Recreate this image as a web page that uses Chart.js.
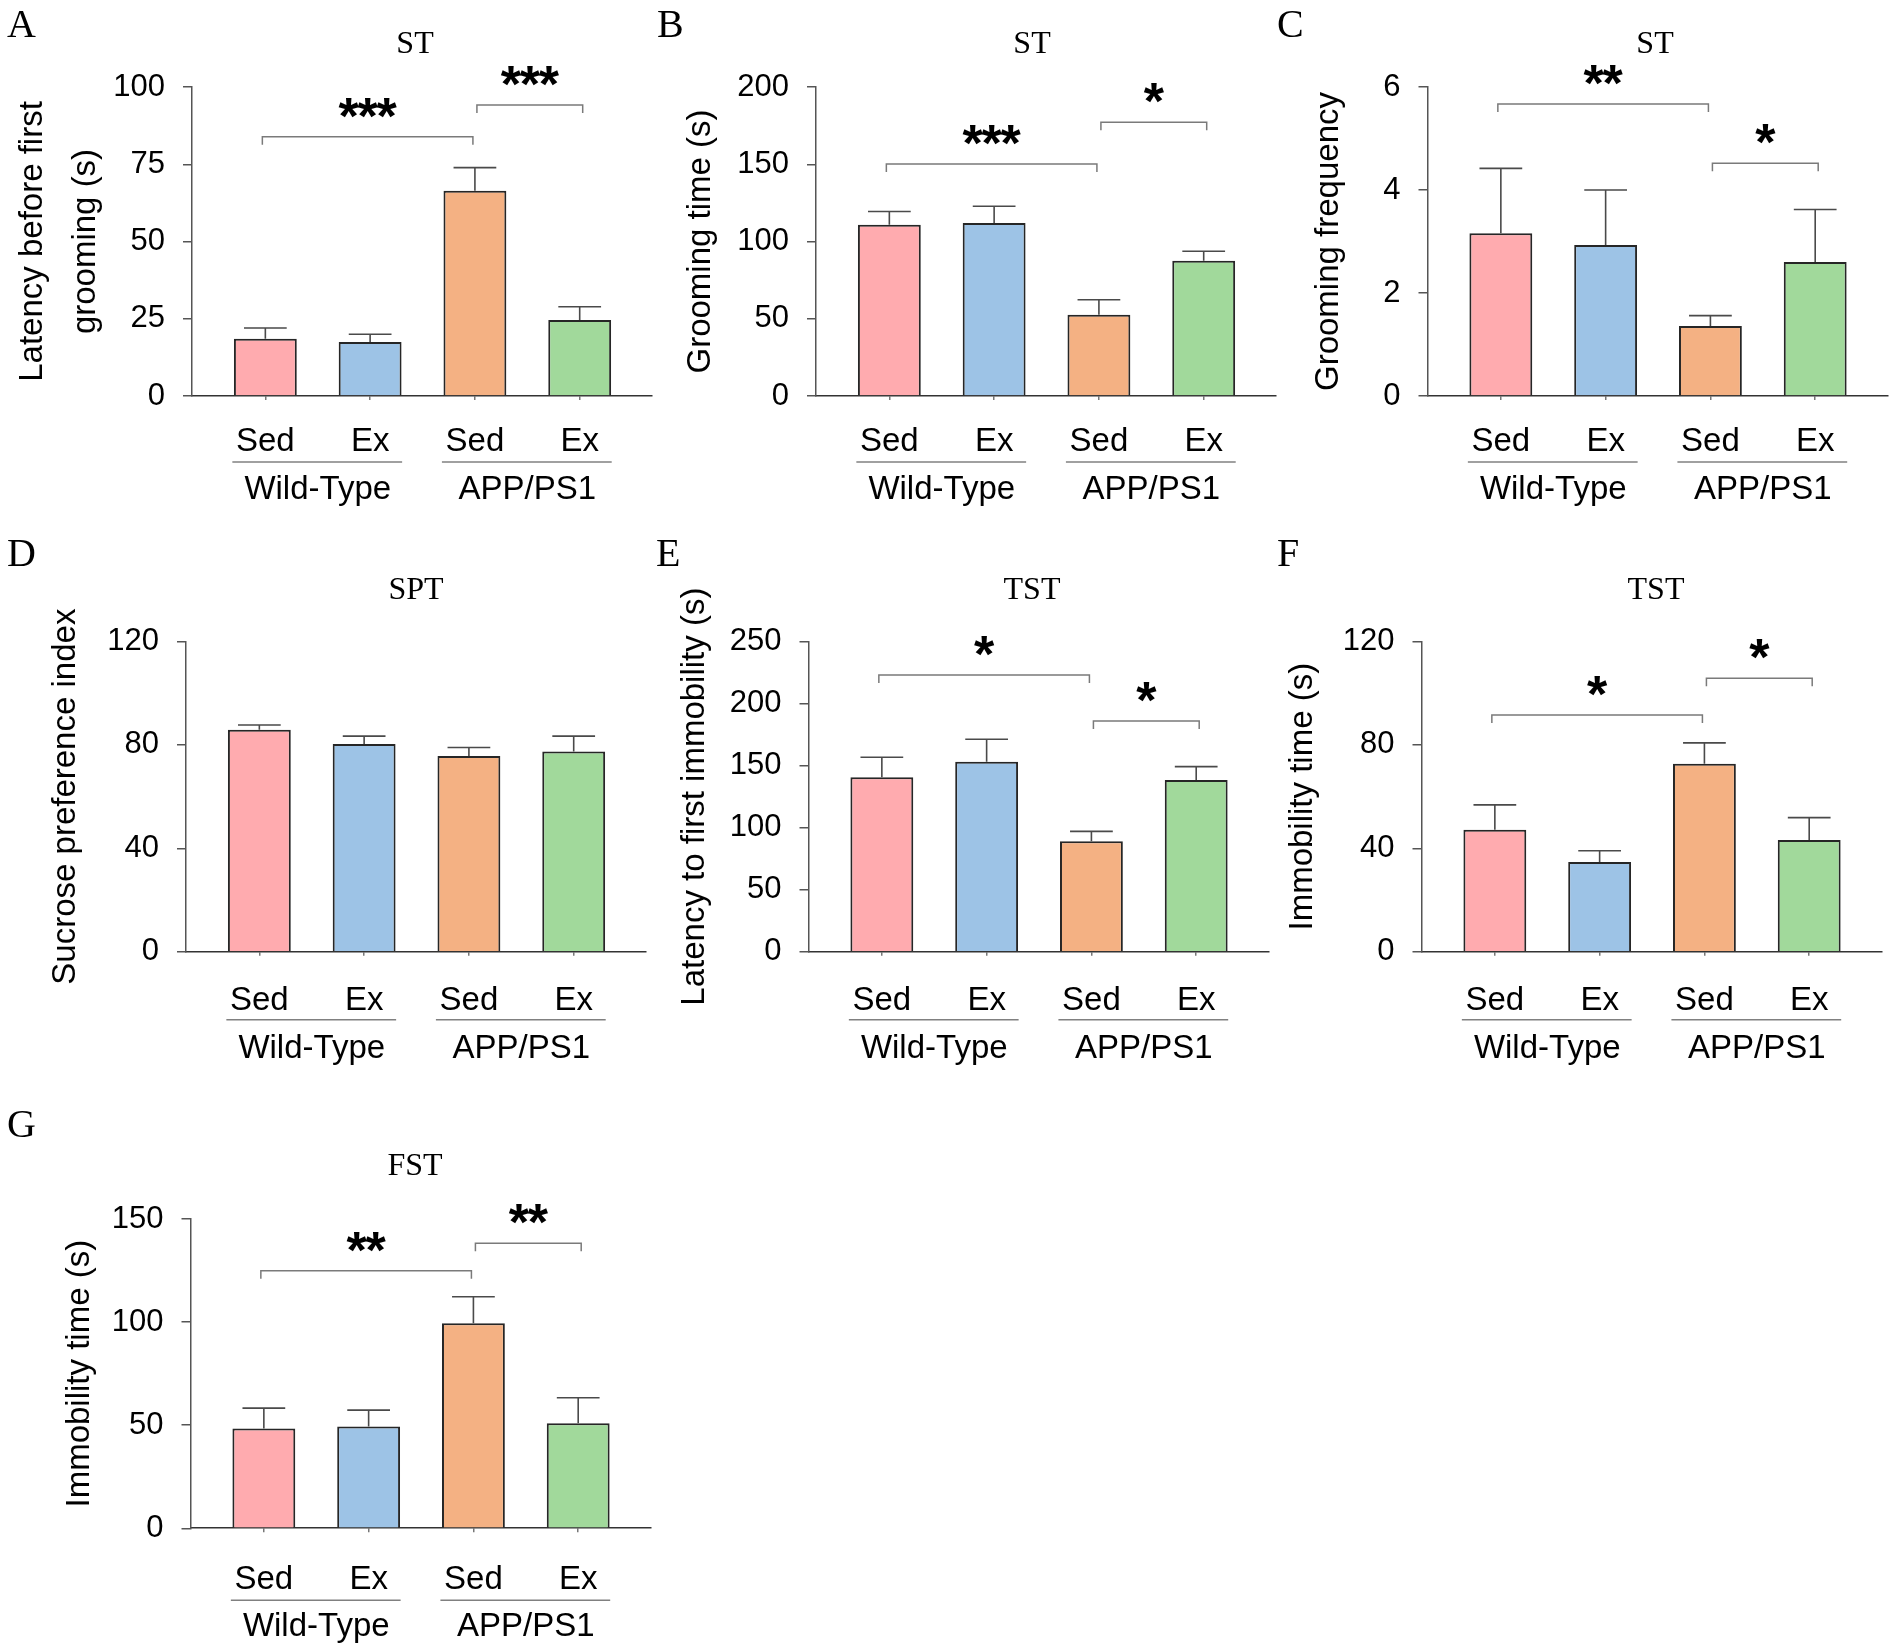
<!DOCTYPE html>
<html>
<head>
<meta charset="utf-8">
<title>Behavioural tests</title>
<script src="https://cdn.jsdelivr.net/npm/chart.js@4.4.1/dist/chart.umd.min.js"></script>
<style>
  body { margin: 0; background: #fff; }
  #page { position: relative; width: 1897px; height: 1652px; }
  #page canvas { position: absolute; }
</style>
</head>
<body>
<div id="page"></div>
<script>
// groups on the x axis
const groups = ['Sed', 'Ex', 'Sed', 'Ex'];
const genotypes = ['Wild-Type', 'APP/PS1'];
const barColors = ['#ffabaf', '#9dc3e6', '#f4b183', '#a1d99b'];

// A: ST, latency before first grooming (s)
const groomLatency = [18.5, 17.5, 66.4, 24.6];
const groomLatencySem = [3.5, 2.5, 7.5, 4.3];
const groomLatencyTicks = [0, 25, 50, 75, 100];
const groomLatencySig = [{ from: 0, to: 2, at: 83.9, mark: '***' }, { from: 2, to: 3, at: 94.2, mark: '***' }];

// B: ST, grooming time (s)
const groomTime = [110.8, 111.9, 52.6, 87.5];
const groomTimeSem = [8.6, 10.9, 9.7, 6.2];
const groomTimeTicks = [0, 50, 100, 150, 200];
const groomTimeSig = [{ from: 0, to: 2, at: 150.2, mark: '***' }, { from: 2, to: 3, at: 177.2, mark: '*' }];

// C: ST, grooming frequency
const groomFreq = [3.16, 2.93, 1.36, 2.60];
const groomFreqSem = [1.26, 1.07, 0.2, 1.02];
const groomFreqTicks = [0, 2, 4, 6];
const groomFreqSig = [{ from: 0, to: 2, at: 5.67, mark: '**' }, { from: 2, to: 3, at: 4.52, mark: '*' }];

// D: SPT, sucrose preference index
const sucrose = [85.9, 80.4, 75.7, 77.5];
const sucroseSem = [1.8, 3.0, 3.3, 5.9];
const sucroseTicks = [0, 40, 80, 120];
const sucroseSig = [];

// E: TST, latency to first immobility (s)
const tstLatency = [140.6, 153.2, 89.0, 138.4];
const tstLatencySem = [16.1, 18.0, 8.0, 10.8];
const tstLatencyTicks = [0, 50, 100, 150, 200, 250];
const tstLatencySig = [{ from: 0, to: 2, at: 223.1, mark: '*' }, { from: 2, to: 3, at: 186, mark: '*' }];

// F: TST, immobility time (s)
const tstImmob = [47.2, 34.7, 72.7, 43.2];
const tstImmobSem = [9.6, 4.4, 8.1, 8.7];
const tstImmobTicks = [0, 40, 80, 120];
const tstImmobSig = [{ from: 0, to: 2, at: 91.6, mark: '*' }, { from: 2, to: 3, at: 105.8, mark: '*' }];

// G: FST, immobility time (s)
const fstImmob = [48.4, 49.4, 99.5, 51.0];
const fstImmobSem = [9.9, 7.9, 12.8, 12.3];
const fstImmobTicks = [0, 50, 100, 150];
const fstImmobSig = [{ from: 0, to: 2, at: 124.9, mark: '**' }, { from: 2, to: 3, at: 138.3, mark: '**' }];

const SANS = '"Liberation Sans", Arial, sans-serif';
const SERIF = '"Liberation Serif", "Times New Roman", serif';
const YW = 130;      // width kept for the y scale
const XH = 4;        // height kept for the x scale
const PLOT_W = 460;  // plot width in px

// layout of the seven panels (page coordinates)
const panels = [
  { id: 'A', title: 'ST', yTitle: ['Latency before first', 'grooming (s)'], yTitleX: [33, 86],
    mean: groomLatency, sem: groomLatencySem, ticks: groomLatencyTicks, sig: groomLatencySig,
    box: [0, 0, 660, 540], axisX: 192, topY: 87, zeroY: 396,
    letterAt: [7, 37], titleAt: [415, 53], under: [55, 66, 103] },
  { id: 'B', title: 'ST', yTitle: ['Grooming time (s)'], yTitleX: [701],
    mean: groomTime, sem: groomTimeSem, ticks: groomTimeTicks, sig: groomTimeSig,
    box: [640, 0, 660, 540], axisX: 816, topY: 87, zeroY: 396,
    letterAt: [657, 37], titleAt: [1032, 53], under: [55, 66, 103] },
  { id: 'C', title: 'ST', yTitle: ['Grooming frequency'], yTitleX: [1329],
    mean: groomFreq, sem: groomFreqSem, ticks: groomFreqTicks, sig: groomFreqSig,
    box: [1257, 0, 640, 540], axisX: 1427.5, topY: 87, zeroY: 396,
    letterAt: [1277, 37], titleAt: [1655, 53], under: [55, 66, 103] },
  { id: 'D', title: 'SPT', yTitle: ['Sucrose preference index'], yTitleX: [66],
    mean: sucrose, sem: sucroseSem, ticks: sucroseTicks, sig: sucroseSig,
    box: [0, 520, 660, 580], axisX: 186, topY: 641.5, zeroY: 951.8,
    letterAt: [7, 566], titleAt: [416, 599], under: [58, 68, 106] },
  { id: 'E', title: 'TST', yTitle: ['Latency to first immobility (s)'], yTitleX: [695],
    mean: tstLatency, sem: tstLatencySem, ticks: tstLatencyTicks, sig: tstLatencySig,
    box: [640, 520, 660, 580], axisX: 808.5, topY: 641.5, zeroY: 951.8,
    letterAt: [656, 566], titleAt: [1032, 599], under: [58, 68, 106] },
  { id: 'F', title: 'TST', yTitle: ['Immobility time (s)'], yTitleX: [1303],
    mean: tstImmob, sem: tstImmobSem, ticks: tstImmobTicks, sig: tstImmobSig,
    box: [1257, 520, 640, 580], axisX: 1421.5, topY: 641.5, zeroY: 951.8,
    letterAt: [1277, 566], titleAt: [1656, 599], under: [58, 68, 106] },
  { id: 'G', title: 'FST', yTitle: ['Immobility time (s)'], yTitleX: [80],
    mean: fstImmob, sem: fstImmobSem, ticks: fstImmobTicks, sig: fstImmobSig,
    box: [0, 1090, 660, 562], axisX: 190.5, topY: 1219, zeroY: 1528.3,
    letterAt: [7, 1137], titleAt: [415, 1175], under: [61, 72, 108] }
];

const panelById = {};

const decor = {
  id: 'decor',
  afterDatasetsDraw(chart) {
    const p = panelById[chart.canvas.id];
    const ctx = chart.ctx, xs = chart.scales.x, ys = chart.scales.y;
    const meta = chart.getDatasetMeta(0);
    ctx.save();
    ctx.strokeStyle = '#4a4a4a';
    ctx.lineWidth = 1.6;
    p.mean.forEach((m, i) => {
      const x = xs.getPixelForValue(i);
      const yBar = ys.getPixelForValue(m);
      const yErr = ys.getPixelForValue(m + p.sem[i]);
      const half = meta.data[i].width * 0.34;
      ctx.beginPath();
      ctx.moveTo(x, yBar);
      ctx.lineTo(x, yErr);
      ctx.moveTo(x - half, yErr);
      ctx.lineTo(x + half, yErr);
      ctx.stroke();
    });
    ctx.restore();
  },
  afterDraw(chart) {
    const p = panelById[chart.canvas.id];
    const ctx = chart.ctx, xs = chart.scales.x, ys = chart.scales.y;
    const ox = p.box[0], oy = p.box[1];
    const zero = ys.getPixelForValue(0);
    ctx.save();
    ctx.fillStyle = '#000';

    // panel letter and title
    ctx.textBaseline = 'alphabetic';
    ctx.textAlign = 'left';
    ctx.font = '40px ' + SERIF;
    ctx.fillText(p.id, p.letterAt[0] - ox, p.letterAt[1] - oy);
    ctx.textAlign = 'center';
    ctx.font = '32px ' + SERIF;
    ctx.fillText(p.title, p.titleAt[0] - ox, p.titleAt[1] - oy);

    // y title, rotated
    const midY = (chart.chartArea.top + chart.chartArea.bottom) / 2;
    ctx.font = '33px ' + SANS;
    p.yTitle.forEach((line, k) => {
      ctx.save();
      ctx.translate(p.yTitleX[k] - ox, midY);
      ctx.rotate(-Math.PI / 2);
      ctx.textBaseline = 'middle';
      ctx.fillText(line, 0, 0);
      ctx.restore();
    });

    // group labels under the axis
    ctx.font = '33px ' + SANS;
    ctx.textBaseline = 'alphabetic';
    groups.forEach((g, i) => {
      ctx.fillText(g, xs.getPixelForValue(i), zero + p.under[0]);
    });
    ctx.strokeStyle = '#808080';
    ctx.lineWidth = 1.5;
    genotypes.forEach((name, k) => {
      const a = xs.getPixelForValue(k * 2), b = xs.getPixelForValue(k * 2 + 1);
      ctx.beginPath();
      ctx.moveTo(a - 33, zero + p.under[1]);
      ctx.lineTo(b + 32, zero + p.under[1]);
      ctx.stroke();
      ctx.fillText(name, (a + b) / 2, zero + p.under[2]);
    });

    // significance brackets
    ctx.strokeStyle = '#7a7a7a';
    ctx.lineWidth = 1.5;
    ctx.font = 'bold 52px ' + SANS;
    p.sig.forEach(s => {
      const x1 = xs.getPixelForValue(s.from) + (s.from > 0 ? 2 : -3);
      const x2 = xs.getPixelForValue(s.to) + (s.to === groups.length - 1 ? 3 : -2);
      const y = ys.getPixelForValue(s.at);
      ctx.beginPath();
      ctx.moveTo(x1, y + 8);
      ctx.lineTo(x1, y);
      ctx.lineTo(x2, y);
      ctx.lineTo(x2, y + 8);
      ctx.stroke();
      const n = s.mark.length, cx = (x1 + x2) / 2;
      for (let k = 0; k < n; k++) {
        ctx.fillText('*', cx + (k - (n - 1) / 2) * 19, y - 3);
      }
    });
    ctx.restore();
  }
};

const page = document.getElementById('page');

panels.forEach(p => {
  const cv = document.createElement('canvas');
  cv.id = 'panel' + p.id;
  cv.width = p.box[2];
  cv.height = p.box[3];
  cv.style.left = p.box[0] + 'px';
  cv.style.top = p.box[1] + 'px';
  cv.style.width = p.box[2] + 'px';
  cv.style.height = p.box[3] + 'px';
  page.appendChild(cv);
  panelById[cv.id] = p;

  const pad = {
    left: p.axisX - p.box[0] - YW,
    right: p.box[0] + p.box[2] - p.axisX - PLOT_W,
    top: p.topY - p.box[1],
    bottom: p.box[1] + p.box[3] - p.zeroY - XH
  };

  new Chart(cv, {
    type: 'bar',
    data: {
      datasets: [{
        data: p.mean.map((v, i) => ({ x: i, y: v })),
        backgroundColor: barColors,
        borderColor: '#262626',
        borderWidth: 2,
        barPercentage: 0.6,
        categoryPercentage: 1.0
      }]
    },
    options: {
      responsive: false,
      animation: false,
      devicePixelRatio: 1,
      layout: { padding: pad },
      plugins: { legend: { display: false }, tooltip: { enabled: false } },
      scales: {
        x: {
          type: 'linear',
          offset: false,
          min: -0.7,
          max: 3.69,
          afterBuildTicks: s => { s.ticks = groups.map((g, i) => ({ value: i })); },
          afterFit: s => { s.height = XH; },
          ticks: { display: false },
          grid: { offset: false, drawOnChartArea: false, tickLength: 4, color: '#777', lineWidth: 1.5 },
          border: { color: '#333', width: 1.6 }
        },
        y: {
          min: 0,
          max: p.ticks[p.ticks.length - 1],
          afterBuildTicks: s => { s.ticks = p.ticks.map(v => ({ value: v })); },
          afterFit: s => { s.width = YW; },
          ticks: { color: '#000', padding: 18, font: { family: SANS, size: 31 } },
          grid: { drawOnChartArea: false, tickLength: 9, color: '#555', lineWidth: 1.5 },
          border: { color: '#555', width: 1.5 }
        }
      }
    },
    plugins: [decor]
  });
});
</script>
</body>
</html>
